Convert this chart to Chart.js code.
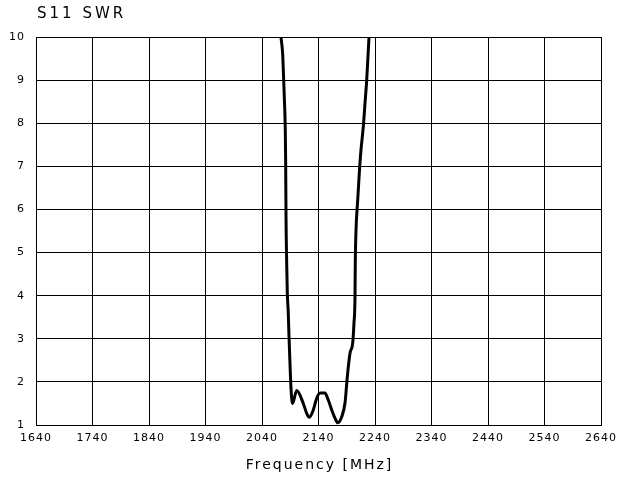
<!DOCTYPE html>
<html>
<head>
<meta charset="utf-8">
<script src="https://cdn.jsdelivr.net/npm/chart.js@4/dist/chart.umd.min.js"></script>
<style>
  html, body { margin: 0; padding: 0; background: #fff; }
  #wrap { width: 618px; height: 483px; }
</style>
</head>
<body>
<div id="wrap"><canvas id="swrChart"></canvas></div>
<script>
// S11 SWR readings, frequency in MHz
const frequency = [2073.6, 2076.6, 2077.7, 2079.5, 2081.2, 2081.9, 2082.5, 2083.7, 2084.8, 2086.5,
  2087.8, 2089.6, 2091.3, 2094.0, 2101.4, 2113.1, 2119.1, 2123.7, 2130.8, 2136.8,
  2142.7, 2151.5, 2157.3, 2163.4, 2169.2, 2174.0, 2181.1, 2186.9, 2191.0, 2195.8,
  2200.5, 2202.8, 2204.6, 2205.1, 2206.4, 2209.4, 2212.2, 2215.2, 2219.3, 2222.3,
  2225.3, 2229.4];
const swr = [10, 9.6, 9.24, 8.6, 7.85, 7.08, 5.83, 4.76, 4.06, 3.6,
  3.05, 2.4, 1.86, 1.5, 1.8, 1.5, 1.27, 1.18, 1.35, 1.62,
  1.74, 1.74, 1.58, 1.35, 1.16, 1.05, 1.19, 1.51, 2.12, 2.67,
  2.9, 3.37, 3.98, 4.75, 5.52, 6.22, 6.84, 7.38, 7.92, 8.46,
  9.0, 10];

const chartTitle = 'S11 SWR';
const xAxisTitle = 'Frequency [MHz]';
const xMin = 1640, xMax = 2640, xStep = 100;
const yMin = 1, yMax = 10, yStep = 1;

// texts in the reference are spaced out, so draw them with letterSpacing
const spacedText = {
  id: 'spacedText',
  beforeDraw(chart) {
    chart.ctx.letterSpacing = '1px';
  },
  afterDraw(chart) {
    const ctx = chart.ctx;
    const area = chart.chartArea;
    ctx.save();
    ctx.fillStyle = '#000';
    ctx.textBaseline = 'middle';
    ctx.font = '15px "DejaVu Sans"';
    ctx.letterSpacing = '3px';
    ctx.textAlign = 'left';
    ctx.fillText(chartTitle, area.left + 1, 14);
    ctx.font = '14px "DejaVu Sans"';
    ctx.letterSpacing = '2px';
    ctx.textAlign = 'center';
    ctx.fillText(xAxisTitle, (area.left + area.right) / 2 + 1, 465);
    ctx.restore();
  }
};

new Chart(document.getElementById('swrChart'), {
  type: 'line',
  data: {
    datasets: [{
      data: frequency.map((f, i) => ({ x: f, y: swr[i] })),
      borderColor: '#000',
      borderWidth: 3,
      pointRadius: 0,
      cubicInterpolationMode: 'monotone',
      fill: false
    }]
  },
  options: {
    responsive: true,
    maintainAspectRatio: false,
    animation: false,
    layout: { padding: { top: 37, right: 17, bottom: 0, left: 0 } },
    plugins: {
      legend: { display: false },
      tooltip: { enabled: false }
    },
    scales: {
      x: {
        type: 'linear',
        min: xMin,
        max: xMax,
        afterFit: (s) => { s.height = 58; s.paddingLeft = 0; s.paddingRight = 0; },
        ticks: {
          stepSize: xStep,
          color: '#000',
          font: { family: 'DejaVu Sans', size: 11 },
          padding: 7,
          maxRotation: 0,
          autoSkip: false,
          callback: (v) => String(v)
        },
        grid: { color: '#000', lineWidth: 1, drawTicks: false },
        border: { color: '#000', width: 1 }
      },
      y: {
        min: yMin,
        max: yMax,
        afterFit: (s) => { s.width = 36; },
        ticks: {
          stepSize: yStep,
          color: '#000',
          font: { family: 'DejaVu Sans', size: 11 },
          padding: 11
        },
        grid: { color: '#000', lineWidth: 1, drawTicks: false },
        border: { color: '#000', width: 1 }
      }
    }
  },
  plugins: [spacedText]
});
</script>
</body>
</html>
